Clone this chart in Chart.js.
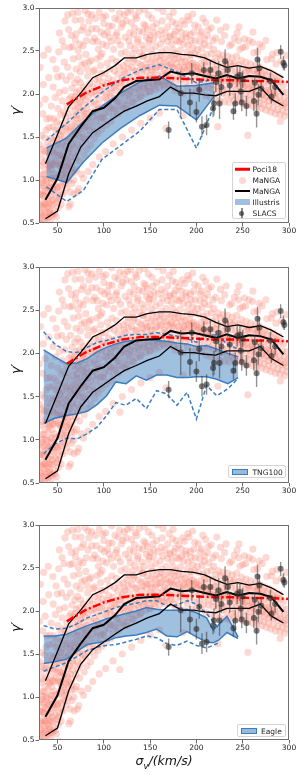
<!DOCTYPE html>
<html>
<head>
<meta charset="utf-8">
<script src="https://cdn.jsdelivr.net/npm/chart.js@4.4.1/dist/chart.umd.min.js"></script>
<style>
  html, body { margin: 0; padding: 0; background: #fff; }
  #page { position: relative; width: 302px; height: 775px; overflow: hidden; font-family: "DejaVu Sans", sans-serif; }
  canvas { position: absolute; left: 0; }
  .ylab { position: absolute; left: 15px; font-size: 13px; font-style: italic; color: #111; white-space: nowrap;
          transform: translate(-50%, -50%) rotate(-90deg); }
  .xlab { position: absolute; left: 164px; top: 762px; font-size: 12.5px; font-style: italic; color: #111; white-space: nowrap;
          transform: translate(-50%, -50%); }
  .xlab sub { font-size: 8.5px; }
  .legend { position: absolute; background: rgba(255,255,255,0.8); border: 1px solid #d4d4d4; border-radius: 2px;
            font-size: 7.5px; color: #222; box-sizing: border-box; }
  .row { position: absolute; left: 0; width: 100%; height: 11px; }
  .txt { position: absolute; top: 0; line-height: 11px; white-space: nowrap; }
  .hline { position: absolute; left: 1.5px; width: 15px; top: 50%; transform: translateY(-50%); }
  .hdot { position: absolute; left: 5.5px; top: 2px; width: 7px; height: 7px; border-radius: 50%; }
  .hpatch { position: absolute; top: 2.5px; height: 6px; box-sizing: border-box; }
  .herr { position: absolute; left: 8.4px; width: 1.2px; top: 0.5px; height: 10px; background: rgba(60,60,60,0.6); }
</style>
</head>
<body>
<div id="page">
  <canvas id="c1" width="302" height="245" style="top:0px"></canvas>
  <canvas id="c2" width="302" height="250" style="top:255px"></canvas>
  <canvas id="c3" width="302" height="265" style="top:510px"></canvas>

  <div class="ylab" style="top:110px">γ′</div>
  <div class="ylab" style="top:369px">γ′</div>
  <div class="ylab" style="top:627px">γ′</div>
  <div class="xlab">σ<sub>v</sub>/(km/s)</div>

  <div class="legend" style="left:232px;top:162px;width:54px;height:57px">
    <div class="row" style="top:0.5px"><span class="hline" style="height:2.5px;background:#ff0000"></span><span class="txt" style="left:19.5px">Poci18</span></div>
    <div class="row" style="top:11.5px"><span class="hdot" style="background:rgba(250,128,114,0.3)"></span><span class="txt" style="left:19.5px">MaNGA</span></div>
    <div class="row" style="top:22.5px"><span class="hline" style="height:2px;background:#000"></span><span class="txt" style="left:19.5px">MaNGA</span></div>
    <div class="row" style="top:33.5px"><span class="hpatch" style="left:1.5px;width:15px;background:rgba(45,115,185,0.45)"></span><span class="txt" style="left:19.5px">Illustris</span></div>
    <div class="row" style="top:44.5px"><span class="herr"></span><span class="hdot" style="left:6px;top:3px;width:5px;height:5px;background:rgba(40,40,40,0.65)"></span><span class="txt" style="left:19.5px">SLACS</span></div>
  </div>

  <div class="legend" style="left:228px;top:465px;width:58px;height:13px">
    <div class="row" style="top:0.5px"><span class="hpatch" style="left:2.5px;width:16.5px;background:rgba(45,115,185,0.5);border:1px solid #3b7dbf"></span><span class="txt" style="left:23.5px">TNG100</span></div>
  </div>

  <div class="legend" style="left:237px;top:724px;width:49px;height:13px">
    <div class="row" style="top:0.5px"><span class="hpatch" style="left:2.5px;width:16.5px;background:rgba(45,115,185,0.5);border:1px solid #3b7dbf"></span><span class="txt" style="left:23px">Eagle</span></div>
  </div>
</div>

<script>
const xTicks = [50, 100, 150, 200, 250, 300];
const yTicks = [0.5, 1.0, 1.5, 2.0, 2.5, 3.0];

// MaNGA galaxies (sigma, gamma)
const mangaPoints = [
  [30.4,0.55],[30.9,0.83],[31.3,1.17],[30.7,1.41],[31.1,0.71],[30.5,1.88],[31.4,2.31],
  [32.1,0.49],[32.6,0.62],[32.3,1.29],[32.9,0.97],[32.5,1.06],[33.1,0.58],[32.7,1.52],
  [33.6,0.88],[34.2,0.53],[33.9,1.21],[34.5,1.01],[34.1,1.77],[33.7,0.74],[34.6,2.11],
  [35.3,0.67],[35.7,1.34],[35.1,0.93],[36.1,1.49],[35.5,0.81],[36.3,1.12],[35.9,0.51],
  [36.8,0.87],[37.3,1.23],[36.9,0.6],[37.7,1.58],[37.1,1.01],[36.6,1.94],[37.5,0.73],
  [38.2,0.57],[38.7,1.18],[38.4,0.99],[39.1,1.42],[38.9,0.69],[38.5,1.71],[39.3,0.85],
  [39.8,0.78],[40.3,1.31],[40.1,0.56],[40.7,1.61],[39.9,1.09],[40.5,2.19],[40.9,0.66],
  [41.5,0.92],[41.9,1.39],[41.3,0.63],[42.1,1.17],[41.7,1.72],[42.4,0.52],[42.3,0.81],
  [42.9,1.24],[43.4,0.97],[42.7,1.48],[43.6,0.71],[43.2,1.86],[43.8,1.12],
  [44.3,0.77],[44.8,1.33],[44.1,1.02],[45.1,1.62],[44.6,0.59],[45.3,2.08],[44.9,1.19],
  [31,0.44],[36,0.46],[41,0.45],[46,0.47],[52,0.48],[35,2.45],[40,2.52],[45,2.4],
  [30.8,0.95],[31.6,0.61],[32.2,0.83],[33.3,1.36],[33.4,0.69],[34.8,0.82],[35.2,1.06],[36.4,0.72],
  [37.9,0.94],[38,1.33],[39.5,0.62],[40.2,0.91],[41,1.16],[41.1,0.73],[42.6,1.02],[43.1,0.59],
  [44.5,0.91],[45.5,0.72],[46.4,1.18],[47,0.88],[48.2,1.35],[49.8,0.92],[50.6,1.42],[51.4,0.77],
  [52.5,1.29],[53.6,1.14],[54.5,0.86],[55.6,1.24],[57.4,0.95],[58.4,1.08],[60.2,1.05],[61.5,1.14],
  [63.5,0.86],[65,1.14],[67.5,1.0],[70.5,1.12],
  [45.8,0.86],[46.3,1.31],[45.6,1.46],[46.6,0.64],[46.1,1.71],[46.9,1.07],
  [47.4,0.95],[47.9,1.22],[47.2,0.61],[48.1,1.58],[47.7,1.96],[48.4,2.29],[48.0,0.79],
  [48.8,1.03],[49.3,1.41],[49.0,1.49],[49.6,0.74],[49.2,1.68],[48.6,0.57],
  [50.3,0.91],[50.7,1.19],[50.1,1.28],[51.0,1.56],[50.5,1.83],[51.3,2.49],[50.9,0.68],
  [51.8,1.04],[52.3,1.47],[51.6,0.82],[52.6,1.17],[52.1,2.02],[52.8,1.64],
  [53.3,0.93],[53.7,1.29],[53.1,1.52],[54.0,1.06],[53.5,1.76],[54.3,2.21],[53.9,0.72],
  [54.7,1.18],[55.2,1.36],[54.9,1.57],[55.5,0.98],[55.1,1.92],[55.8,1.43],[55,2.62],
  [56.3,1.11],[56.8,1.27],[56.1,0.84],[57.0,1.66],[56.6,1.79],[57.3,2.37],
  [57.8,1.02],[58.2,1.39],[57.6,1.51],[58.6,1.21],[58.0,2.04],[58.9,1.73],[58,2.85],
  [59.3,1.16],[59.8,1.46],[59.1,1.59],[60.1,1.86],[59.6,2.16],[59.9,0.91],[50,2.2],
  [60.7,1.24],[61.2,1.33],[60.4,1.62],[61.5,1.78],[61.0,2.31],[61.8,0.99],
  [62.3,0.69],[62.9,1.17],[62.1,1.48],[63.2,1.56],[62.6,1.94],[63.4,2.54],[63.0,1.36],[62,2.75],
  [63.9,1.27],[64.4,1.61],[63.7,1.69],[64.7,1.97],[64.1,2.21],[64.9,1.08],[64,0.72],
  [65.4,0.96],[65.9,1.42],[65.2,1.53],[66.1,1.86],[65.7,2.07],[66.3,2.94],[66.0,1.21],[66,2.55],
  [66.8,1.39],[67.3,1.74],[66.6,1.31],[67.6,1.93],[67.1,2.41],[67.9,1.58],
  [68.4,1.09],[68.9,1.48],[68.1,1.63],[69.1,1.81],[68.6,2.13],[69.3,2.63],[68.8,1.97],[68,0.84],
  [69.8,1.26],[70.3,1.66],[69.6,1.54],[70.6,2.02],[70.1,2.29],[70.9,1.76],[70,2.7],
  [71.4,0.86],[71.8,1.41],[71.1,1.71],[72.1,1.89],[71.6,2.17],[72.3,2.51],[71.9,1.33],[72,2.95],
  [72.8,1.51],[73.3,1.59],[72.6,1.84],[73.7,2.04],[73.1,2.43],[73.9,1.22],[73,0.9],
  [74.4,1.37],[74.8,1.72],[74.2,1.91],[75.1,2.13],[74.6,2.26],[75.3,2.86],[74.9,1.63],
  [75.8,1.07],[76.3,1.54],[75.6,1.81],[76.6,1.96],[76.1,2.34],[76.9,1.44],
  [77.3,1.49],[77.8,1.67],[77.1,1.98],[78.1,2.08],[77.6,2.56],[78.4,1.79],[78,1.02],[78,2.78],
  [78.8,1.29],[79.3,1.61],[78.6,1.87],[79.6,2.01],[79.1,2.36],[79.8,2.97],[79.4,1.74],
  [80.3,1.47],[80.8,1.62],[80.1,1.93],[81.1,2.05],[80.6,2.46],[81.3,1.77],
  [81.9,1.36],[82.4,1.71],[81.7,1.83],[82.7,2.21],[82.2,2.29],[82.9,2.71],[83,1.1],
  [83.8,1.52],[84.3,1.58],[83.6,1.97],[84.6,2.12],[84.1,2.37],[84,2.85],
  [85.8,1.41],[86.3,1.79],[85.6,1.89],[86.6,2.01],[86.1,2.39],[86.9,2.92],[85.1,1.68],
  [87.8,1.62],[88.3,1.74],[87.6,2.08],[88.6,2.26],[88.1,2.61],[88,1.18],
  [89.8,1.48],[90.3,1.56],[89.6,1.91],[90.6,2.17],[90.1,2.28],[89.2,2.03],[90,2.65],
  [91.8,1.69],[92.3,1.88],[91.6,1.99],[92.6,2.41],[92.1,2.76],[93.1,1.76],
  [93.8,1.54],[94.3,1.83],[93.6,2.11],[94.6,2.19],[94.1,2.52],[95,1.27],[95,2.95],
  [95.8,1.63],[96.3,1.72],[95.6,1.94],[96.6,2.33],[96.1,2.44],[97.2,2.24],
  [97.8,1.59],[98.3,1.85],[97.6,2.03],[98.6,2.14],[98.1,2.47],[98.9,2.89],
  [100.3,1.71],[100.8,1.78],[100.1,2.09],[101.3,2.24],[100.6,2.69],[101.9,1.96],[100,2.82],
  [102.8,1.64],[103.3,1.93],[102.6,2.01],[103.7,2.36],[103.1,2.56],[102,1.33],[104,2.72],
  [105.3,1.79],[105.8,1.86],[105.1,2.18],[106.3,2.29],[105.6,2.79],[106.8,2.01],
  [107.8,1.68],[108.3,1.97],[107.6,2.06],[108.7,2.41],[108.1,2.61],[108.5,2.99],
  [110.3,1.74],[110.8,1.83],[110.1,2.16],[111.3,2.27],[110.6,2.52],[111.9,1.95],[110,1.42],
  [112.8,1.81],[113.3,2.04],[112.6,2.12],[113.7,2.38],[113.1,2.68],[112,2.88],
  [115.3,1.77],[115.8,1.92],[115.1,2.23],[116.3,2.31],[115.6,2.86],[116.9,2.13],[115,2.62],
  [117.8,1.86],[118.3,1.99],[117.6,2.08],[118.7,2.47],[118.1,2.57],[117.4,1.32],
  [120.3,1.84],[120.8,2.01],[120.1,2.19],[121.1,2.33],[120.6,2.82],[121.8,2.27],[120,1.5],
  [122.8,1.92],[123.3,2.11],[122.6,2.24],[123.6,2.49],[123.1,2.66],[122,2.92],
  [125.3,1.87],[125.8,2.06],[125.1,2.36],[126.1,2.42],[125.6,2.95],[126.7,1.99],
  [127.8,1.97],[128.3,2.15],[127.6,2.21],[128.6,2.56],[128.1,2.71],
  [130.3,1.91],[130.8,2.09],[130.1,2.31],[131.1,2.47],[131.8,2.38],[130,2.83],[130,1.58],
  [132.8,2.02],[133.3,2.13],[132.6,2.41],[133.6,2.53],[133.1,2.77],
  [135.3,1.95],[135.8,2.19],[135.1,2.27],[136.1,2.61],[135.6,2.88],[136.8,2.07],
  [137.8,2.04],[138.3,2.11],[137.6,2.36],[138.6,2.48],[138.1,2.73],[138,2.96],
  [140.3,1.98],[140.8,2.24],[140.1,2.33],[141.1,2.57],[141.8,2.44],[140,1.66],
  [142.8,2.07],[143.3,2.16],[142.6,2.44],[143.6,2.52],[143.1,2.81],
  [145.3,2.01],[145.8,2.27],[145.1,2.35],[146.1,2.66],[146.8,2.19],[145,2.79],
  [147.8,2.09],[148.3,2.14],[147.6,2.41],[148.6,2.59],[148.1,2.92],
  [150.3,2.03],[150.8,2.22],[150.1,2.31],[151.1,2.51],[151.8,2.38],[150,1.72],[150,2.68],
  [152.8,2.12],[153.3,2.19],[152.6,2.46],[153.6,2.63],[153.1,2.78],
  [155.3,2.05],[155.8,2.28],[155.1,2.37],[156.1,2.55],[156.8,2.16],
  [157.8,2.13],[158.3,2.21],[157.6,2.43],[158.6,2.69],[158.1,3.0],
  [160.3,2.07],[160.8,2.32],[160.1,2.39],[161.1,2.58],[161.8,2.45],[160,1.78],
  [162.8,2.15],[163.3,2.24],[162.6,2.49],[163.6,2.64],[163.1,2.85],
  [165.3,2.09],[165.8,2.27],[165.1,2.41],[166.1,2.71],[166.8,2.21],
  [167.8,2.16],[168.3,2.33],[167.6,2.52],[168.6,2.61],[167.1,1.6],
  [170.3,2.11],[170.8,2.22],[170.1,2.45],[171.1,2.67],[170.6,2.9],[171.8,2.34],
  [172.8,2.18],[173.3,2.36],[172.6,2.43],[173.6,2.58],
  [175.3,2.08],[175.8,2.29],[175.1,2.51],[176.1,2.69],[176.8,2.41],[175,2.95],
  [177.8,2.14],[178.3,2.21],[177.6,2.47],[178.6,2.62],[178.1,2.82],
  [180.4,2.06],[180.9,2.31],[180.2,2.42],[181.2,2.61],
  [182.8,2.17],[183.3,2.22],[182.6,2.51],[183.6,2.72],[184.1,2.37],
  [185.3,2.01],[185.7,2.29],[185.1,2.43],[185.9,2.58],[185.5,1.75],[185,2.85],
  [187.8,2.13],[188.3,2.19],[187.6,2.38],[188.6,2.66],[189.1,2.27],
  [190.3,2.08],[190.8,2.34],[190.1,2.49],[191.1,2.57],[190.6,2.9],
  [192.8,2.16],[193.3,2.26],[192.6,2.41],[193.6,2.69],[194.1,2.46],
  [195.3,2.02],[195.8,2.28],[195.1,2.35],[196.1,2.54],[196,2.93],
  [197.8,2.11],[198.3,2.21],[197.6,2.47],[198.6,2.62],[198.1,2.8],[199.1,2.31],
  [200.3,2.04],[200.8,2.27],[200.1,2.33],[201.1,2.52],
  [202.8,2.12],[203.3,2.19],[202.6,2.45],[203.6,2.61],[204.1,2.25],
  [205.3,2.02],[205.8,2.29],[205.1,2.36],[206.1,2.53],[205.6,2.72],
  [207.8,2.08],[208.3,2.16],[207.6,2.43],[208.6,2.58],[209.1,2.37],
  [210.3,1.98],[210.8,2.25],[210.1,2.32],[211.1,2.46],[210,2.83],
  [212.8,2.07],[213.3,2.13],[212.6,2.38],[213.6,2.56],[213.1,2.75],[214.1,2.2],
  [215.3,1.96],[215.8,2.23],[215.1,2.28],[216.1,2.47],
  [217.8,2.05],[218.3,2.11],[217.6,2.37],[218.6,2.52],[219.1,2.29],
  [220.3,1.94],[220.8,2.18],[220.1,2.28],[221.1,2.42],[220.6,2.65],
  [222.8,2.03],[223.3,2.08],[222.6,2.34],[223.6,2.47],[223.1,1.62],[224.1,2.14],
  [225.3,1.92],[225.8,2.17],[225.1,2.23],[226.1,2.41],[226,2.74],
  [227.8,2.01],[228.3,2.06],[227.6,2.32],[228.6,2.45],[229.1,2.25],
  [230.3,1.91],[230.8,2.15],[230.1,2.21],[231.1,2.38],[230.6,2.68],
  [232.8,1.98],[233.3,2.05],[232.6,2.29],[233.6,2.44],[234.1,2.17],
  [235.3,1.9],[235.8,2.12],[235.1,2.19],[236.1,2.36],
  [237.8,1.97],[238.3,2.03],[237.6,2.27],[238.6,2.42],[238.1,2.58],[239.1,2.33],
  [240.3,1.93],[240.8,2.11],[240.1,2.18],[241.1,2.36],
  [242.8,1.99],[243.3,2.05],[242.6,2.26],[243.6,2.44],[244.1,2.21],[244,2.71],
  [245.3,1.91],[245.8,2.09],[245.1,2.17],[246.1,2.34],[245.6,2.62],
  [247.8,1.96],[248.3,2.03],[247.6,2.24],[248.6,2.39],[249.1,2.12],[247,2.52],
  [250.3,1.89],[250.8,2.07],[250.1,2.14],[251.1,2.31],
  [252.8,1.94],[253.3,2.01],[252.6,2.21],[253.6,2.37],[253.1,2.55],[254.1,2.27],[252,2.64],
  [255.3,1.87],[255.8,2.05],[255.1,2.12],[256.1,2.29],[255.6,1.52],
  [257.8,1.93],[258.3,1.99],[257.6,2.19],[258.6,2.35],[259.1,2.08],
  [260.3,1.86],[260.8,2.04],[260.1,2.11],[261.1,2.27],[260.6,2.6],
  [262.8,1.91],[263.3,1.98],[262.6,2.17],[263.6,2.33],[264.1,2.24],[262,2.48],
  [265.3,1.84],[265.8,2.02],[265.1,2.09],[266.1,2.26],
  [267.8,1.89],[268.3,1.96],[267.6,2.15],[268.6,2.31],[269.1,2.12],[268,2.58],
  [270.3,1.83],[270.8,1.99],[270.1,2.07],[271.1,2.24],
  [272.8,1.88],[273.3,1.94],[272.6,2.13],[273.6,2.28],[274.1,2.02],
  [275.3,1.81],[275.8,1.97],[275.1,2.04],[276.1,2.21],[276,2.4],
  [277.8,1.86],[278.3,1.92],[277.6,2.11],[278.6,2.26],[279.1,2.15],
  [280.3,1.79],[280.8,1.95],[280.1,2.02],[281.1,2.19],
  [282.8,1.84],[283.3,1.91],[282.6,2.08],[283.6,2.23],[284.1,2.01],[282,2.46],
  [285.3,1.77],[285.8,1.93],[285.1,1.99],[286.1,2.16],[286,2.35],
  [287.8,1.82],[288.3,1.89],[287.6,2.06],[289.1,2.2],
  [290.3,1.76],[290.8,1.91],[290.1,1.97],[291.1,2.14],[290.6,1.68],
  [292.8,1.81],[293.3,1.87],[292.6,2.03],[294.1,2.11],
  [295.3,1.74],[295.8,1.89],[295.1,1.96],
  [297.8,1.79],[298.3,1.85],[297.6,2.02],[299,1.93],
  [52,2.71],[57,2.55],[61,2.92],[65,2.68],[69,2.86],[74,2.58],[76,2.74],[81,2.62],[83,2.93],[87,2.76],
  [91,2.88],[93,2.61],[97,2.72],[99,2.58],[102,2.91],[106,2.66],[109,2.79],[114,2.71],[117,2.94],[119,2.78],
  [124,2.85],[127,2.62],[129,2.97],[132,2.69],[134,2.91],[137,2.64],[142,2.72],[144,2.98],[147,2.75],[149,2.63],
  [152,2.88],[154,2.71],[157,2.82],[162,2.74],[164,2.96],[169,2.78],[172,2.66],[174,2.84],[177,2.73],[181,2.77],
  [184,2.64],[187,2.81],[189,2.7],[192,2.86],[194,2.62],[197,2.72],[202,2.78],[204,2.69],[207,2.88],[209,2.64],
  [212,2.68],[216,2.77],[218,2.62],[222,2.86],[227,2.61],[232,2.78],[236,2.56],[241,2.65],[246,2.78],[250,2.54],
  [257,2.62],[261,2.72],[266,2.49],[271,2.55],[275,2.62],[281,2.41],[287,2.48],[292,2.38],[297,2.45],
  [91,1.82],[95,2.04],[99,1.73],[104,2.12],[107,1.84],[111,2.08],[114,1.9],[119,2.16],[122,2.04],[124,1.83],
  [127,2.29],[129,2.04],[132,1.9],[134,2.26],[137,2.16],[139,1.96],[142,2.29],[144,2.09],[147,2.31],[149,2.03],
  [152,2.27],[154,2.09],[157,2.31],[159,2.14],[162,2.33],[164,2.11],[167,2.37],[169,2.26],[172,2.13],[174,2.31],
  [177,2.04],[179,2.35],[182,2.27],[187,2.31],[192,2.33],[197,2.36],[202,2.3],[207,2.24],[212,2.25],[217,2.19],
  [222,2.19],[227,2.15],[232,2.34],[237,2.14],[242,2.15],[247,2.13],[252,2.1],[257,2.27],[262,2.06],[267,2.24],
  [272,2.2],[277,2.04],[282,1.99],[287,2.14]
];

// MaNGA binned median and 16/84 percentiles
const mangaSigma = [37, 50, 62, 75, 88, 100, 112, 122, 135, 147, 160, 172, 184, 197, 209, 221, 233, 245, 257, 269, 281, 294];
const mangaHi  = [1.19, 1.53, 1.85, 2.01, 2.19, 2.25, 2.33, 2.42, 2.42, 2.46, 2.48, 2.48, 2.46, 2.45, 2.42, 2.36, 2.31, 2.33, 2.30, 2.32, 2.27, 2.19];
const mangaMed = [0.77, 1.02, 1.42, 1.62, 1.80, 1.84, 1.95, 2.08, 2.15, 2.16, 2.17, 2.26, 2.23, 2.24, 2.21, 2.18, 2.22, 2.18, 2.21, 2.20, 2.16, 1.99];
const mangaLo  = [0.55, 0.64, 1.07, 1.38, 1.55, 1.64, 1.73, 1.80, 1.86, 1.92, 1.97, 2.08, 2.01, 2.01, 1.99, 1.98, 2.03, 2.03, 2.03, 2.08, 1.94, 1.86];

// Poci18 relation
const pociSigma = [60, 80, 100, 120, 140, 160, 180, 200, 220, 240, 260, 280, 300];
const pociGamma = [1.88, 2.01, 2.10, 2.16, 2.19, 2.19, 2.18, 2.17, 2.16, 2.16, 2.15, 2.15, 2.14];

// SLACS lenses
const slacsSigma = [170, 183, 193, 195, 200, 203, 206, 208, 211, 215, 218, 219, 221, 224, 225, 227, 231, 234, 236, 240, 242, 244, 247, 248, 249, 250, 254, 262, 263, 265, 266, 267, 268, 270, 280, 281, 285, 291, 294, 295];
const slacsGamma = [1.58, 2.01, 1.90, 2.24, 1.79, 2.05, 1.62, 2.28, 1.64, 2.28, 1.83, 1.89, 2.14, 2.24, 1.89, 2.08, 2.38, 2.28, 2.10, 1.80, 1.89, 2.20, 2.22, 2.03, 1.90, 2.17, 1.86, 1.92, 2.13, 1.77, 2.40, 1.99, 2.30, 2.06, 2.15, 1.97, 2.08, 2.49, 2.36, 2.33];
const slacsErr   = [0.10, 0.26, 0.16, 0.12, 0.12, 0.14, 0.12, 0.09, 0.12, 0.10, 0.10, 0.14, 0.12, 0.14, 0.18, 0.10, 0.14, 0.10, 0.12, 0.10, 0.12, 0.12, 0.10, 0.12, 0.10, 0.10, 0.12, 0.12, 0.08, 0.16, 0.14, 0.12, 0.12, 0.10, 0.10, 0.08, 0.10, 0.08, 0.08, 0.06];

// Illustris
const illSigma   = [38, 60, 78, 98, 118, 139, 160, 179, 200, 219];
const illHi      = [1.37, 1.49, 1.68, 1.86, 2.01, 2.14, 2.21, 2.09, 2.10, 2.13];
const illLo      = [1.04, 0.97, 1.21, 1.43, 1.60, 1.75, 1.87, 1.86, 1.70, 1.97];
const illDashHi  = [1.46, 1.66, 1.84, 2.02, 2.17, 2.28, 2.34, 2.26, 2.13, 2.17];
const illDashLo  = [0.92, 0.75, 0.88, 1.24, 1.40, 1.57, 1.82, 1.82, 1.37, 1.86];

// TNG100
const tngSigma   = [35, 47, 60, 71, 82, 93, 103, 113, 124, 135, 146, 157, 168, 179, 190, 200, 211, 222, 234, 245];
const tngHi      = [2.04, 1.96, 1.88, 1.89, 1.94, 2.02, 2.07, 2.11, 2.14, 2.15, 2.16, 2.15, 2.14, 2.12, 2.11, 2.08, 2.09, 2.05, 2.00, 1.96];
const tngLo      = [1.19, 1.25, 1.28, 1.30, 1.33, 1.41, 1.51, 1.67, 1.65, 1.74, 1.69, 1.75, 1.75, 1.72, 1.72, 1.73, 1.73, 1.70, 1.65, 1.72];
const tngDashHi  = [2.25, 2.11, 2.02, 2.01, 2.07, 2.13, 2.15, 2.18, 2.21, 2.22, 2.22, 2.24, 2.22, 2.20, 2.17, 2.13, 2.20, 2.22, 2.10, 2.05];
const tngDashLo  = [0.84, 0.95, 1.02, 1.01, 1.07, 1.15, 1.28, 1.43, 1.40, 1.48, 1.36, 1.57, 1.53, 1.40, 1.55, 1.24, 1.63, 1.51, 1.59, 1.71];

// Eagle
const eagleSigma     = [35, 47, 60, 71, 82, 93, 103, 113, 124, 135, 146, 157, 168, 179, 190, 200, 211, 218, 224, 233, 245];
const eagleHi        = [1.71, 1.71, 1.73, 1.78, 1.83, 1.87, 1.91, 1.94, 1.97, 2.00, 2.04, 2.02, 2.01, 2.01, 2.02, 1.98, 1.92, 1.78, 1.84, 1.94, 1.70];
const eagleLo        = [1.39, 1.41, 1.44, 1.53, 1.61, 1.63, 1.65, 1.69, 1.71, 1.72, 1.75, 1.79, 1.71, 1.70, 1.76, 1.70, 1.64, 1.63, 1.66, 1.75, 1.68];
const eagleDashSigma = [35, 47, 60, 71, 82, 93, 103, 113, 124, 135, 146, 157, 168, 179, 190, 200, 211, 218, 224];
const eagleDashHi    = [1.83, 1.79, 1.80, 1.85, 1.92, 1.96, 2.00, 2.04, 2.07, 2.09, 2.12, 2.12, 2.06, 2.07, 2.12, 2.08, 1.97, 1.88, 1.80];
const eagleDashLo    = [1.30, 1.35, 1.40, 1.47, 1.54, 1.58, 1.60, 1.61, 1.64, 1.67, 1.71, 1.69, 1.62, 1.60, 1.65, 1.60, 1.57, 1.60, 1.63];

const simBlue = '#3b7dbf';
const bandFill = 'rgba(45,115,185,0.45)';

function pts(xs, ys) {
  return ys.map((y, i) => ({ x: xs[i], y: y }));
}

function errSegments() {
  const out = [];
  slacsSigma.forEach((s, i) => {
    out.push({ x: s, y: slacsGamma[i] - slacsErr[i] });
    out.push({ x: s, y: slacsGamma[i] + slacsErr[i] });
    out.push({ x: s, y: null });
  });
  return out;
}

const framePlugin = {
  id: 'frame',
  afterDraw(chart) {
    const { ctx, chartArea: a } = chart;
    ctx.save();
    ctx.strokeStyle = '#6f6f6f';
    ctx.lineWidth = 1;
    ctx.strokeRect(a.left + 0.5, a.top + 0.5, a.right - a.left - 1, a.bottom - a.top - 1);
    ctx.restore();
  }
};

function makeChart(id, padTop, axisH, sim) {
  const line = (data, extra) => Object.assign({
    type: 'line', data: data, pointRadius: 0, tension: 0, fill: false, spanGaps: false
  }, extra);

  const datasets = [
    { type: 'scatter', data: mangaPoints.map(p => ({ x: p[0], y: p[1] })), pointRadius: 3.6,
      backgroundColor: 'rgba(250,128,114,0.3)', borderWidth: 0, order: 10, clip: 0 },
    line(pts(sim.x, sim.hi), { borderColor: simBlue, borderWidth: 1.5, fill: '+1', backgroundColor: bandFill, order: 9 }),
    line(pts(sim.x, sim.lo), { borderColor: simBlue, borderWidth: 1.5, order: 8 }),
    line(pts(sim.dx, sim.dhi), { borderColor: simBlue, borderWidth: 1.5, borderDash: [4, 2.5], order: 7 }),
    line(pts(sim.dx, sim.dlo), { borderColor: simBlue, borderWidth: 1.5, borderDash: [4, 2.5], order: 7 }),
    line(pts(mangaSigma, mangaHi), { borderColor: '#000', borderWidth: 1.3, order: 5 }),
    line(pts(mangaSigma, mangaMed), { borderColor: '#000', borderWidth: 2, order: 5 }),
    line(pts(mangaSigma, mangaLo), { borderColor: '#000', borderWidth: 1.3, order: 5 }),
    line(pts(pociSigma, pociGamma), { borderColor: '#ff0000', borderWidth: 2.5, borderDash: [8, 2.5, 2, 2.5], order: 4 }),
    line(errSegments(), { borderColor: 'rgba(60,60,60,0.55)', borderWidth: 1.4, order: 2 }),
    { type: 'scatter', data: pts(slacsSigma, slacsGamma), pointRadius: 3,
      backgroundColor: 'rgba(40,40,40,0.6)', borderWidth: 0, order: 1 }
  ];

  const tickFont = { family: 'DejaVu Sans', size: 7.5 };

  return new Chart(document.getElementById(id), {
    type: 'line',
    data: { datasets: datasets },
    options: {
      responsive: false,
      animation: false,
      devicePixelRatio: 1,
      events: [],
      layout: { padding: { top: padTop, right: 13, left: 0, bottom: 0 } },
      plugins: { legend: { display: false }, tooltip: { enabled: false } },
      scales: {
        x: {
          type: 'linear', min: 30, max: 300,
          afterBuildTicks: s => { s.ticks = xTicks.map(v => ({ value: v })); },
          afterFit: s => { s.height = axisH; },
          ticks: { font: tickFont, color: '#222', padding: 0, maxRotation: 0, callback: v => String(v) },
          grid: { drawOnChartArea: false, tickLength: 3.5, color: '#444', tickWidth: 0.8 },
          border: { display: false }
        },
        y: {
          type: 'linear', min: 0.5, max: 3.0,
          afterBuildTicks: s => { s.ticks = yTicks.map(v => ({ value: v })); },
          afterFit: s => { s.width = 39; },
          ticks: { font: tickFont, color: '#222', padding: 1, callback: v => v.toFixed(1) },
          grid: { drawOnChartArea: false, tickLength: 3.5, color: '#444', tickWidth: 0.8 },
          border: { display: false }
        }
      }
    },
    plugins: [framePlugin]
  });
}

makeChart('c1', 8, 22, { x: illSigma, hi: illHi, lo: illLo, dx: illSigma, dhi: illDashHi, dlo: illDashLo });
makeChart('c2', 12, 22, { x: tngSigma, hi: tngHi, lo: tngLo, dx: tngSigma, dhi: tngDashHi, dlo: tngDashLo });
makeChart('c3', 15, 35, { x: eagleSigma, hi: eagleHi, lo: eagleLo, dx: eagleDashSigma, dhi: eagleDashHi, dlo: eagleDashLo });
</script>
</body>
</html>
